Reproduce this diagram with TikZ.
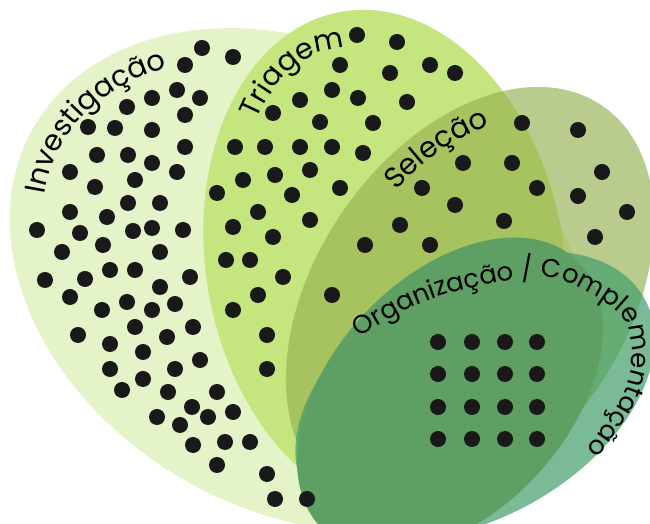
\documentclass[tikz,border=0pt]{standalone}
\usepackage{fontspec}
\newfontfamily\labelfont{Poppins}
\usetikzlibrary{decorations.text}
\definecolor{investig}{RGB}{228,243,200}
\definecolor{triagem}{RGB}{197,229,126}
\definecolor{selecao}{RGB}{150,178,80}
\definecolor{organiz}{RGB}{94,159,99}
\definecolor{complem}{RGB}{66,158,106}

\begin{document}
\begin{tikzpicture}[x=1bp, y=1bp,
    dot/.style={fill=black!90},
    label text/.style={decorate, decoration={text along path,
        text={|\labelfont\fontsize{29}{32}\selectfont|#1}}},
    small label text/.style={decorate, decoration={text along path,
        text={|\labelfont\fontsize{26}{30}\selectfont|#1}}}]
    \useasboundingbox (0,0) rectangle (650,524);
    \fill[white] (0,0) rectangle (650,524);
    \clip (0,0) rectangle (650,524);

    % Ellipses
    \fill[investig, rotate around={-29.7:(300,244)}] (300,244) ellipse[x radius=307, y radius=231];
    \fill[triagem, rotate around={-80.1:(385,262)}] (385,262) ellipse[x radius=254, y radius=179];
    \fill[selecao, fill opacity=0.65, rotate around={55.8:(470,224)}] (470,224) ellipse[x radius=235, y radius=155];
    \fill[complem, fill opacity=0.7, rotate around={30:(475,129)}] (475,129) ellipse[x radius=195, y radius=122];
    \fill[organiz, rotate around={47:(450,129)}] (450,129) ellipse[x radius=185, y radius=118];

    % Dots
    \foreach \x/\y in {202/48, 233/57, 185/65, 177/90, 200/98, 152/98, 127/107, 185/115,
        88/127, 115/128, 152/130, 185/147, 97/155, 128/155, 152/163, 177/172, 70/172,
        135/180, 95/187, 128/203, 160/203, 70/212, 107/217, 37/230, 80/233, 133/231,
        152/228, 183/230, 62/252, 103/245, 160/252, 45/280, 85/279, 110/270, 135/270,
        190/277, 160/287, 70/297, 102/310, 127/302, 152/310, 175/304, 135/327, 193/327,
        78/335, 110/344, 167/337, 143/352, 200/360, 110/369, 175/369, 143/379, 122/390,
        168/392, 217/392, 192/407, 233/412, 157/417, 208/417, 180/425, 193/445, 225/442,
        250/442, 217/465, 267/474, 275/499, 307/499}
        \fill[dot] (\x,{524-\y}) circle (8);
    \foreach \x/\y in {357/35, 397/42, 340/65, 390/73, 430/65, 455/73, 332/90, 358/98,
        407/102, 373/123, 300/100, 273/113, 320/122, 235/147, 265/147, 300/147, 332/147,
        363/153, 243/180, 275/175, 310/170, 340/188, 217/193, 292/195, 258/212, 310/220,
        233/227, 273/237, 226/260, 250/260, 283/277, 258/295, 233/310, 267/335, 267/369}
        \fill[dot] (\x,{524-\y}) circle (8);
    \foreach \x/\y in {522/123, 578/130, 463/163, 512/163, 602/172, 422/188, 537/188,
        578/196, 455/205, 627/212, 400/225, 504/221, 595/237, 365/245, 430/245, 332/295}
        \fill[dot] (\x,{524-\y}) circle (8);
    \foreach \x in {438,472,505,537}
        \foreach \y in {342,374,407,439}
            \fill[dot] (\x,{524-\y}) circle (8);

    % Labels
    \path[label text={Investigação}, rotate around={-29.7:(300,244)}]
        ([shift={(195.3:274 and 198)}]300,244) arc[start angle=195.3, end angle=128, x radius=274, y radius=198];
    \path[label text={Triagem}, rotate around={-75.5:(390,224)}]
        ([shift={(216:257 and 142)}]390,224) arc[start angle=216, end angle=160, x radius=257, y radius=142];
    \path[label text={Seleção}, rotate around={63.5:(485,199)}]
        ([shift={(68.4:219 and 150)}]485,199) arc[start angle=68.4, end angle=18, x radius=219, y radius=150];
    \path[small label text={Organização / Complementação}]
        plot[smooth] coordinates {(360,186) (376,197) (408,215) (443,229) (485,239) (523,246)
        (557,245) (590,231) (619,211) (630,187) (631,155) (622,127) (605,100) (592,82) (575,62) (555,45)};
\end{tikzpicture}
\end{document}
